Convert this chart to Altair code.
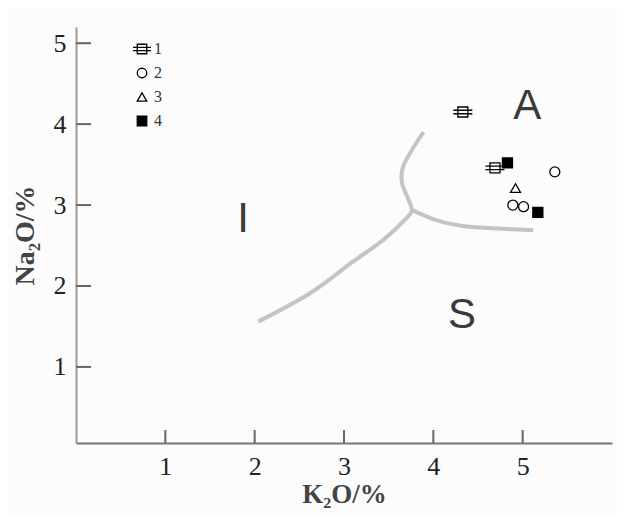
import altair as alt
import pandas as pd

# Boundary curves (I / S / A fields)
lower_x = [2.04, 2.62, 3.10, 3.44, 3.71, 3.76]
lower_y = [1.56, 1.91, 2.30, 2.57, 2.85, 2.94]
upper_x = [3.76, 3.74, 3.65, 3.66, 3.76, 3.89]
upper_y = [2.94, 3.02, 3.27, 3.47, 3.68, 3.90]
right_x = [3.76, 4.04, 4.33, 4.56, 5.12]
right_y = [2.94, 2.81, 2.74, 2.72, 2.69]

# Samples
groups = ["1", "1", "2", "2", "2", "3", "4", "4"]
k2o = [4.33, 4.69, 4.89, 5.01, 5.36, 4.92, 4.83, 5.17]
na2o = [4.15, 3.46, 3.00, 2.98, 3.41, 3.21, 3.52, 2.91]

# Field labels
field_text = ["I", "S", "A"]
field_x = [1.87, 4.32, 5.05]
field_y = [2.83, 1.64, 4.23]

x_ticks = [1, 2, 3, 4, 5]
y_ticks = [1, 2, 3, 4, 5]
group_domain = ["1", "2", "3", "4"]

rows = []
for name, xs, ys in (("lower", lower_x, lower_y), ("upper", upper_x, upper_y), ("right", right_x, right_y)):
    for i, (a, b) in enumerate(zip(xs, ys)):
        rows.append({"branch": name, "order": i, "x": a, "y": b})
lines_df = pd.DataFrame(rows)
pts_df = pd.DataFrame({"group": groups, "x": k2o, "y": na2o})
lab_df = pd.DataFrame({"t": field_text, "x": field_x, "y": field_y})
xt_df = pd.DataFrame({"v": x_ticks})
yt_df = pd.DataFrame({"v": y_ticks})

W, H = 536, 416
xs = alt.Scale(domain=[0, 6], nice=False, zero=False)
ys = alt.Scale(domain=[0.06, 5.2], nice=False, zero=False)

serif = "Liberation Serif"
sans = "Liberation Sans"

xaxis = alt.Axis(values=x_ticks, format="d", tickSize=0, labelFont=serif, labelFontSize=26,
                 labelColor="#222", labelPadding=10, domainColor="#777", domainWidth=2, grid=False,
                 title="K₂O/%", titleFont=serif, titleFontSize=27, titleFontWeight="bold",
                 titleColor="#444", titlePadding=2)
yaxis = alt.Axis(values=y_ticks, format="d", tickSize=0, labelFont=serif, labelFontSize=26,
                 labelColor="#222", labelPadding=10, domainColor="#999", domainWidth=2, grid=False,
                 title="Na₂O/%", titleFont=serif, titleFontSize=28, titleFontWeight="bold",
                 titleColor="#444", titlePadding=14)

curves = alt.Chart(lines_df).mark_line(color="#c4c4c4", strokeWidth=4, interpolate="cardinal").encode(
    x=alt.X("x:Q", scale=xs, axis=xaxis),
    y=alt.Y("y:Q", scale=ys, axis=yaxis),
    detail="branch:N",
    order="order:Q",
)

shape_path = "M-1,-1H1V1H-1Z M-1.9,-0.35H1.9 M-1.9,0.35H1.9"
leg = alt.Legend(orient="none", legendX=58, legendY=14, title=None, labelFont=serif,
                 labelFontSize=16, labelColor="#333",
                 symbolStrokeWidth=1.3, symbolSize=90, rowPadding=8)
points = alt.Chart(pts_df).mark_point(filled=True, strokeWidth=1.3, size=100, opacity=1,
                                      fillOpacity=1, strokeOpacity=1).encode(
    x="x:Q",
    y="y:Q",
    shape=alt.Shape("group:N", scale=alt.Scale(domain=group_domain,
                                               range=[shape_path, "circle", "triangle-up", "square"]),
                    legend=leg),
    fill=alt.Fill("group:N", scale=alt.Scale(domain=group_domain,
                                             range=["white", "white", "white", "black"]),
                  legend=leg),
    stroke=alt.Stroke("group:N", scale=alt.Scale(domain=group_domain,
                                                 range=["black", "black", "black", "black"]),
                      legend=leg),
)

labels = alt.Chart(lab_df).mark_text(font=sans, fontSize=42, color="#3a3a3a").encode(
    x="x:Q", y="y:Q", text="t:N"
)

xticks = alt.Chart(xt_df).mark_rule(color="#666", strokeWidth=2).encode(
    x="v:Q", y=alt.value(H), y2=alt.value(H - 13)
)
yticks = alt.Chart(yt_df).mark_rule(color="#666", strokeWidth=2).encode(
    y="v:Q", x=alt.value(0), x2=alt.value(15)
)

chart = alt.layer(curves, xticks, yticks, points, labels).properties(
    width=W, height=H,
    autosize=alt.AutoSizeParams(type="none"),
    padding={"left": 68, "top": 19, "right": 5, "bottom": 70},
    background="#fcfcfc",
).configure_view(stroke=None)

chart.save("out.html", embed_options={"renderer": "svg", "actions": False})
